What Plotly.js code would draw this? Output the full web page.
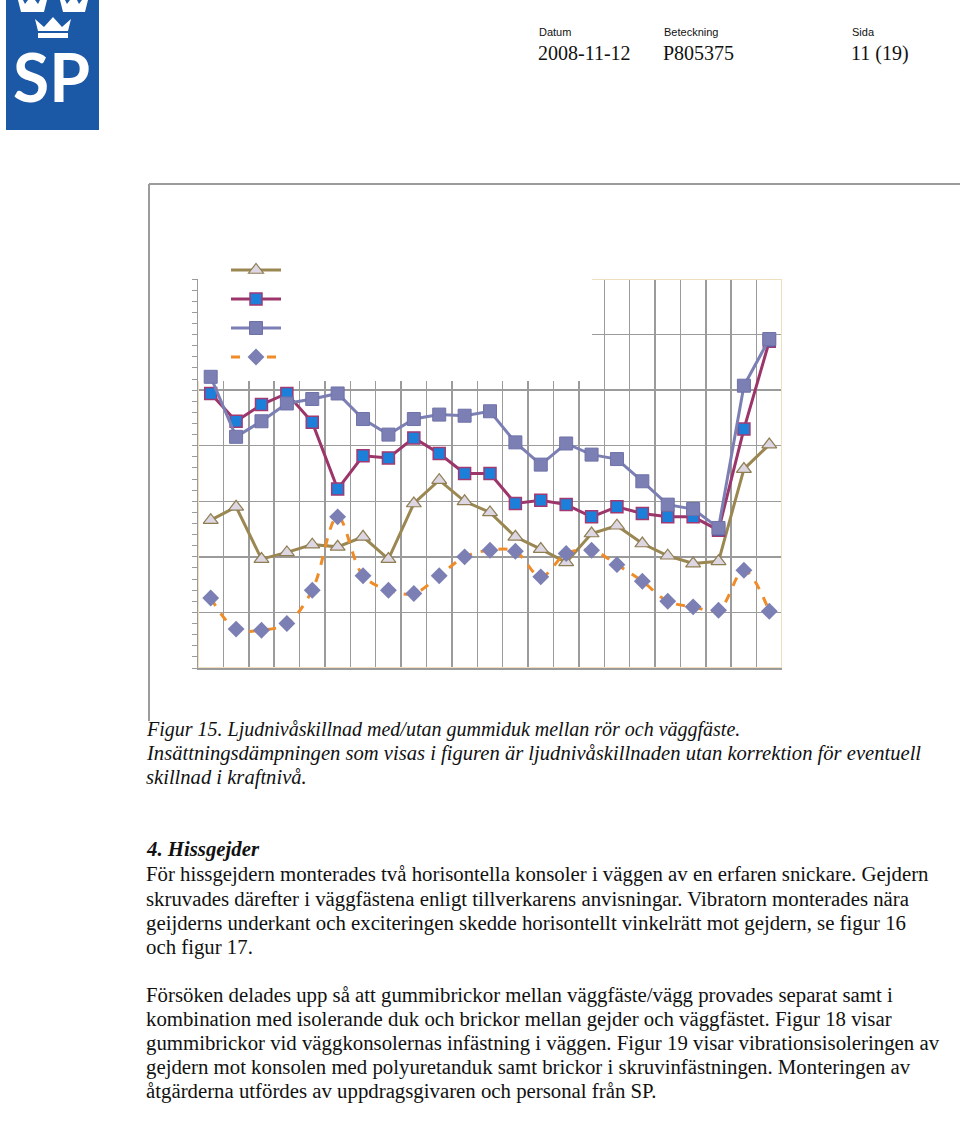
<!DOCTYPE html>
<html>
<head>
<meta charset="utf-8">
<script src="https://cdn.plot.ly/plotly-3.0.1.min.js"></script>
<style>html,body{margin:0;padding:0;background:#fff;}#chart{width:960px;height:1131px;}</style>
</head>
<body>
<div id="chart"></div>
<script>
// 1/3-octave band categories (labels not shown in the original)
const bands = ["50","63","80","100","125","160","200","250","315","400","500","630","800","1000","1250","1600","2000","2500","3150","4000","5000","6300","8000"];
// series values (dB)
const seriesTriangle = [13.3,14.5,9.8,10.4,11.1,10.9,11.8,9.8,14.8,16.9,15.0,14.0,11.8,10.7,9.5,12.1,12.8,11.2,10.1,9.4,9.6,17.9,20.1];
const seriesBlueSquare = [24.7,22.2,23.7,24.7,22.1,16.1,19.1,18.9,20.7,19.3,17.5,17.5,14.8,15.1,14.7,13.6,14.5,13.9,13.6,13.6,12.4,21.5,29.4];
const seriesGraySquare = [26.2,20.8,22.2,23.8,24.2,24.7,22.4,21.0,22.4,22.8,22.7,23.1,20.3,18.3,20.2,19.2,18.8,16.8,14.7,14.3,12.6,25.4,29.6];
const seriesDiamond = [6.3,3.5,3.4,4.0,7.0,13.6,8.3,7.0,6.7,8.3,10.0,10.6,10.5,8.2,10.3,10.6,9.3,7.8,6.0,5.5,5.2,8.8,5.1];

// page geometry helpers (pixel -> paper)
const L=198, R=782, T=279, B=668, W=R-L, H=B-T;
const px = x => (x-L)/W;
const py = y => (B-y)/H;
function path(pts){ return 'M' + pts.map(p => px(p[0]).toFixed(5)+','+py(p[1]).toFixed(5)).join(' L') + ' Z'; }

const traces = [
  {x: bands, y: seriesTriangle, name: ' ', type: 'scatter', mode: 'lines+markers',
   line: {color: '#9a8752', width: 3},
   marker: {symbol: 'triangle-up', size: 13, color: '#dcd7e3', line: {color: '#8f7d52', width: 1.2}}},
  {x: bands, y: seriesBlueSquare, name: ' ', type: 'scatter', mode: 'lines+markers',
   line: {color: '#9c3569', width: 3},
   marker: {symbol: 'square', size: 12, color: '#1c7fd9', line: {color: '#a23a72', width: 1.5}}},
  {x: bands, y: seriesGraySquare, name: ' ', type: 'scatter', mode: 'lines+markers',
   line: {color: '#7c7fb4', width: 3},
   marker: {symbol: 'square', size: 13, color: '#7c7fb4', line: {color: '#6f72a8', width: 1}}},
  {x: bands, y: seriesDiamond, name: ' ', type: 'scatter', mode: 'lines+markers',
   line: {color: '#f08c28', width: 3, dash: 'dash', shape: 'spline', smoothing: 1},
   marker: {symbol: 'diamond', size: 13, color: '#7c7fb4'}}
];

const gray = '#9b9b9b';
const serif = 'Liberation Serif, Times New Roman, serif';
const sans = 'Liberation Sans, Arial, sans-serif';

function ann(text, x, y, size, opts){
  return Object.assign({text: text, xref: 'paper', yref: 'paper', x: px(x), y: py(y),
    xanchor: 'left', yanchor: 'middle', showarrow: false,
    font: {family: serif, size: size, color: '#111'}}, opts || {});
}

const bodyLines = [
  ["För hissgejdern monterades två horisontella konsoler i väggen av en erfaren snickare. Gejdern", 874],
  ["skruvades därefter i väggfästena enligt tillverkarens anvisningar. Vibratorn monterades nära", 899],
  ["geijderns underkant och exciteringen skedde horisontellt vinkelrätt mot gejdern, se figur 16", 923],
  ["och figur 17.", 947],
  ["Försöken delades upp så att gummibrickor mellan väggfäste/vägg provades separat samt i", 995],
  ["kombination med isolerande duk och brickor mellan gejder och väggfästet. Figur 18 visar", 1019],
  ["gummibrickor vid väggkonsolernas infästning i väggen. Figur 19 visar vibrationsisoleringen av", 1043],
  ["gejdern mot konsolen med polyuretanduk samt brickor i skruvinfästningen. Monteringen av", 1067],
  ["åtgärderna utfördes av uppdragsgivaren och personal från SP.", 1091]
];

const annotations = [
  // header
  ann('Datum', 537, 32, 11, {font: {family: sans, size: 11, color: '#111'}}),
  ann('Beteckning', 662, 32, 11, {font: {family: sans, size: 11, color: '#111'}}),
  ann('Sida', 850, 32, 11, {font: {family: sans, size: 11, color: '#111'}}),
  ann('2008-11-12', 536, 53, 20),
  ann('P805375', 661, 53, 20),
  ann('11 (19)', 849, 53, 20),
  // logo letters
  {text: '<b>SP</b>', xref: 'paper', yref: 'paper', x: px(51), y: py(76), xanchor: 'center', yanchor: 'middle',
   showarrow: false, font: {family: 'Lato, Open Sans, sans-serif', size: 66, color: '#ffffff'}},
  // caption
  ann('<i>Figur 15. Ljudnivåskillnad med/utan gummiduk mellan rör och väggfäste.</i>', 144, 729, 20),
  ann('<i>Insättningsdämpningen som visas i figuren är ljudnivåskillnaden utan korrektion för eventuell</i>', 144, 753, 20.6),
  ann('<i>skillnad i kraftnivå.</i>', 144, 777, 20.6),
  ann('<b><i>4. Hissgejder</i></b>', 144, 849, 20.8)
].concat(bodyLines.map(l => ann(l[0], 144, l[1], 20.8)));

const shapes = [
  // logo background
  {type: 'rect', xref: 'paper', yref: 'paper', x0: px(6), x1: px(99), y0: py(130), y1: py(0),
   fillcolor: '#1b58a5', line: {width: 0}, layer: 'above'},
  // top (cut) crowns
  {type: 'path', xref: 'paper', yref: 'paper', layer: 'above', fillcolor: '#fff', line: {width: 0},
   path: path([[18,0],[23,0],[25,4],[28,0],[35,0],[38,4],[40,0],[47,0],[44,12],[21,12]])},
  {type: 'path', xref: 'paper', yref: 'paper', layer: 'above', fillcolor: '#fff', line: {width: 0},
   path: path([[60,0],[65,0],[67,4],[70,0],[77,0],[79,4],[82,0],[88,0],[85,12],[63,12]])},
  // middle crown
  {type: 'path', xref: 'paper', yref: 'paper', layer: 'above', fillcolor: '#fff', line: {width: 0},
   path: path([[35,19],[44,27],[53,17],[62,27],[71,19],[68,31],[38,31]])},
  {type: 'rect', xref: 'paper', yref: 'paper', layer: 'above', fillcolor: '#fff', line: {width: 0},
   x0: px(38), x1: px(68), y0: py(38), y1: py(33)},
  // chart frame (outer)
  {type: 'line', xref: 'paper', yref: 'paper', x0: px(149), x1: px(960), y0: py(184), y1: py(184),
   line: {color: gray, width: 2}},
  {type: 'line', xref: 'paper', yref: 'paper', x0: px(149), x1: px(149), y0: py(184), y1: py(721),
   line: {color: gray, width: 2}},
  // plot area border (cream)
  {type: 'rect', xref: 'x', yref: 'y', x0: -0.5, x1: 22.5, y0: 0, y1: 35,
   line: {color: '#efdfbd', width: 2}, layer: 'between'},
  // white legend box hiding grid in upper-left part
  {type: 'rect', xref: 'x', yref: 'y', x0: -0.6, x1: 15.02, y0: 25.82, y1: 36,
   fillcolor: '#ffffff', line: {width: 0}, layer: 'between'}
];

const layout = {
  width: 960, height: 1131,
  margin: {l: L, r: 960-R, t: T, b: 1131-B, pad: 0},
  paper_bgcolor: '#ffffff', plot_bgcolor: '#ffffff',
  showlegend: true,
  legend: {x: px(226), y: py(250.5), xanchor: 'left', yanchor: 'top', bgcolor: 'rgba(0,0,0,0)',
           font: {size: 20, family: sans}, itemwidth: 50, tracegroupgap: 0},
  xaxis: {type: 'category', range: [-0.5, 22.5], tickson: 'boundaries', showgrid: true,
          gridcolor: gray, gridwidth: 1.5, showline: true, linecolor: gray, linewidth: 1.5,
          ticks: '', showticklabels: false, zeroline: false, fixedrange: true},
  yaxis: {range: [0, 35], dtick: 5, tick0: 0, showgrid: true, gridcolor: gray, gridwidth: 1.5,
          showline: true, linecolor: gray, linewidth: 1.5, ticks: 'outside', ticklen: 5,
          tickcolor: gray, tickwidth: 1, showticklabels: false, zeroline: false,
          minor: {ticks: 'outside', dtick: 1, ticklen: 5, tickcolor: gray, tickwidth: 1, showgrid: false},
          fixedrange: true},
  shapes: shapes,
  annotations: annotations
};

Plotly.newPlot('chart', traces, layout, {displayModeBar: false, staticPlot: true});
</script>
</body>
</html>
